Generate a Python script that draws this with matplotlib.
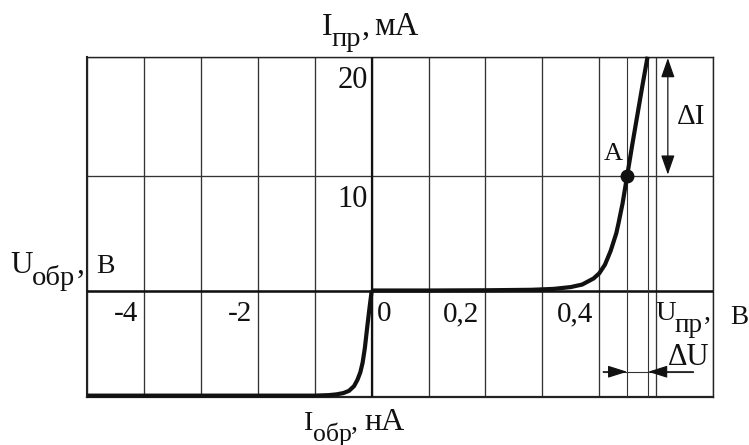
import numpy as np
import matplotlib
matplotlib.use("Agg")
import matplotlib.pyplot as plt

# ---------------- data ----------------
# forward branch: U_pr in V, I_pr in mA
u_fwd = [0.00, 0.10, 0.20, 0.28, 0.32, 0.35, 0.37, 0.39, 0.40, 0.41, 0.42,
         0.43, 0.434, 0.441, 0.449, 0.458, 0.467, 0.476, 0.485]
i_fwd = [0.00, 0.00, 0.02, 0.06, 0.14, 0.30, 0.52, 1.05, 1.50, 2.25, 3.45,
         5.00, 5.90, 7.60, 10.0, 12.6, 15.1, 17.6, 20.0]
# reverse branch: U_obr in V, I_obr in nA (relative, bottom grid line = -1)
u_rev = [0.00, -0.04, -0.08, -0.12, -0.16, -0.20, -0.25, -0.31, -0.40,
         -0.50, -0.62, -0.75, -1.00, -5.00]
i_rev = [0.00, -0.17, -0.35, -0.54, -0.68, -0.77, -0.84, -0.90, -0.945,
         -0.966, -0.978, -0.985, -0.99, -0.99]

# operating point A and the increments
point_a = (0.449, 10.0)
du_bounds = [0.449, 0.486]      # V
di_bounds = [10.0, 20.0]        # mA

# grid and tick labels
x_grid = [-5, -4, -3, -2, -1, 0, 0.1, 0.2, 0.3, 0.4, 0.5, 0.6]
y_grid = [-1, 0, 10, 20]
x_tick_vals = [-4, -2, 0, 0.2, 0.4]
x_tick_text = ["-4", "-2", "0", "0,2", "0,4"]
y_tick_vals = [10, 20]
y_tick_text = ["10", "20"]

# Cyrillic label pieces
VOLT = "\u0412"                    # В
SUB_PR = "\u043f\u0440"            # пр
SUB_OBR = "\u043e\u0431\u0440"     # обр
MILLIAMP = "\u043c\u0410"          # мА
NANOAMP = "\u043d\u0410"           # нА

# ---------------- figure ----------------
W, H, DPI = 749, 445, 100
P = 72.0 / DPI   # pixels -> points
INK = "#111111"
plt.rcParams["font.family"] = ["Liberation Serif", "DejaVu Serif"]

fig = plt.figure(figsize=(W / DPI, H / DPI), dpi=DPI)
fig.patch.set_facecolor("white")
ax = fig.add_axes([87.3 / W, 1 - 396.7 / H, (713 - 87.3) / W, (396.7 - 56.7) / H])

# piecewise scales: negative voltages 1 V per cell, positive 0.1 V per cell
def x_fwd(v):
    v = np.asarray(v, float)
    return np.where(v < 0, v, 10 * v)

def x_inv(u):
    u = np.asarray(u, float)
    return np.where(u < 0, u, u / 10)

ROW_NEG, ROW_LO, ROW_HI = 106.2, 114.5, 119.3

def y_fwd(i):
    i = np.asarray(i, float)
    return np.where(i < 0, i * ROW_NEG,
                    np.where(i <= 10, i * ROW_LO / 10, ROW_LO + (i - 10) * ROW_HI / 10))

def y_inv(u):
    u = np.asarray(u, float)
    return np.where(u < 0, u / ROW_NEG,
                    np.where(u <= ROW_LO, u * 10 / ROW_LO, 10 + (u - ROW_LO) * 10 / ROW_HI))

ax.set_xscale("function", functions=(x_fwd, x_inv))
ax.set_yscale("function", functions=(y_fwd, y_inv))
ax.set_xlim(-5, 0.6)
ax.set_ylim(-1, 20)

ax.set_xticks(x_grid)
ax.set_yticks(y_grid)
ax.grid(True, color="#333333", lw=0.95)
ax.tick_params(length=0, labelbottom=False, labelleft=False)
ax.minorticks_off()
for side, lw in (("left", 1.5), ("bottom", 1.6), ("top", 1.0), ("right", 1.0)):
    ax.spines[side].set_linewidth(lw)
    ax.spines[side].set_color("#222222")

ax.axhline(0, color=INK, lw=1.8, zorder=3)
ax.axvline(0, color=INK, lw=1.6, zorder=3)

# thin lines bounding dU
for v in du_bounds:
    ax.axvline(v, color="#333333", lw=0.8, zorder=3)

# characteristic
ax.plot(u_rev, i_rev, color=INK, lw=3.0, solid_capstyle="butt",
        solid_joinstyle="round", clip_on=False, zorder=5)
ax.plot(u_fwd, i_fwd, color=INK, lw=3.0, solid_capstyle="butt",
        solid_joinstyle="round", clip_on=False, zorder=5)
ax.plot([point_a[0]], [point_a[1]], "o", ms=9, color=INK, zorder=6)

# dI double arrow
x_di = 0.5206
ax.annotate("", xy=(x_di, di_bounds[1]), xytext=(x_di, di_bounds[0]),
            arrowprops=dict(arrowstyle="<|-|>,head_length=1.2,head_width=0.42",
                            mutation_scale=10, lw=0.9, color=INK,
                            shrinkA=1, shrinkB=1), zorder=6)
ax.annotate("ΔI", xy=(x_di, 15), xytext=(9.3 * P, -7.7 * P), textcoords="offset points",
            ha="left", va="baseline", fontsize=21, color=INK)

# dU arrows
y_du = -0.765
x_du_l, x_du_r = 0.4067, 0.5655
ax.plot([x_du_l, x_du_r], [y_du, y_du], color="#333333", lw=0.8, zorder=6)
for x_from, x_to in ((x_du_l, du_bounds[0]), (x_du_r, du_bounds[1])):
    ax.annotate("", xy=(x_to, y_du), xytext=(x_from, y_du),
                arrowprops=dict(arrowstyle="-|>,head_length=1.2,head_width=0.38",
                                mutation_scale=10, lw=0.8, color=INK,
                                shrinkA=0, shrinkB=0), zorder=6)
ax.annotate("ΔU", xy=(du_bounds[1], y_du), xytext=(19.7 * P, 6.7 * P),
            textcoords="offset points", ha="left", va="baseline",
            fontsize=22, color=INK)

# label of point A
ax.annotate("A", xy=point_a, xytext=(-23.3 * P, 16 * P), textcoords="offset points",
            ha="left", va="baseline", fontsize=19, color=INK)

# tick labels inside the grid
for v, t in zip(x_tick_vals, x_tick_text):
    if v == 0:
        ha, dx = "left", 5.0
    else:
        ha, dx = "right", -6.0
    ax.annotate(t, xy=(v, 0), xytext=(dx * P, -30.5 * P), textcoords="offset points",
                ha=ha, va="baseline", fontsize=21, color=INK, zorder=7)
for v, t in zip(y_tick_vals, y_tick_text):
    ax.annotate(t, xy=(0, v), xytext=(-4 * P, -31 * P), textcoords="offset points",
                ha="right", va="baseline", fontsize=22, color=INK, zorder=7)

# axis titles (pixel positions in the figure)
def ftext(xpx, ypx, s, size):
    fig.text(xpx / W, 1 - ypx / H, s, fontsize=size, ha="left", va="baseline",
             color=INK)

# I_pr, mA (top)
ftext(322.0, 35.0, "I", 23)
ftext(331.0, 45.5, SUB_PR, 20.5)
ftext(361.5, 35.0, ",", 23)
ftext(374.5, 35.0, MILLIAMP, 23.5)
# I_obr, nA (bottom)
ftext(303.5, 430.0, "I", 20.5)
ftext(312.5, 440.5, SUB_OBR, 18.5)
ftext(350.5, 430.0, ",", 20.5)
ftext(364.5, 430.0, NANOAMP, 23)
# U_obr, V (left)
ftext(10.5, 273.3, "U", 22.5)
ftext(32.0, 285.0, SUB_OBR, 20.5)
ftext(77.0, 273.3, ",", 22.5)
ftext(96.0, 273.3, VOLT, 20)
# U_pr, V (right)
ftext(655.0, 320.0, "U", 20.5)
ftext(675.0, 332.0, SUB_PR, 19.5)
ftext(703.5, 320.0, ",", 20.5)
ftext(730.5, 324.5, VOLT, 19.5)

fig.savefig("out.png", dpi=DPI, facecolor="white")
